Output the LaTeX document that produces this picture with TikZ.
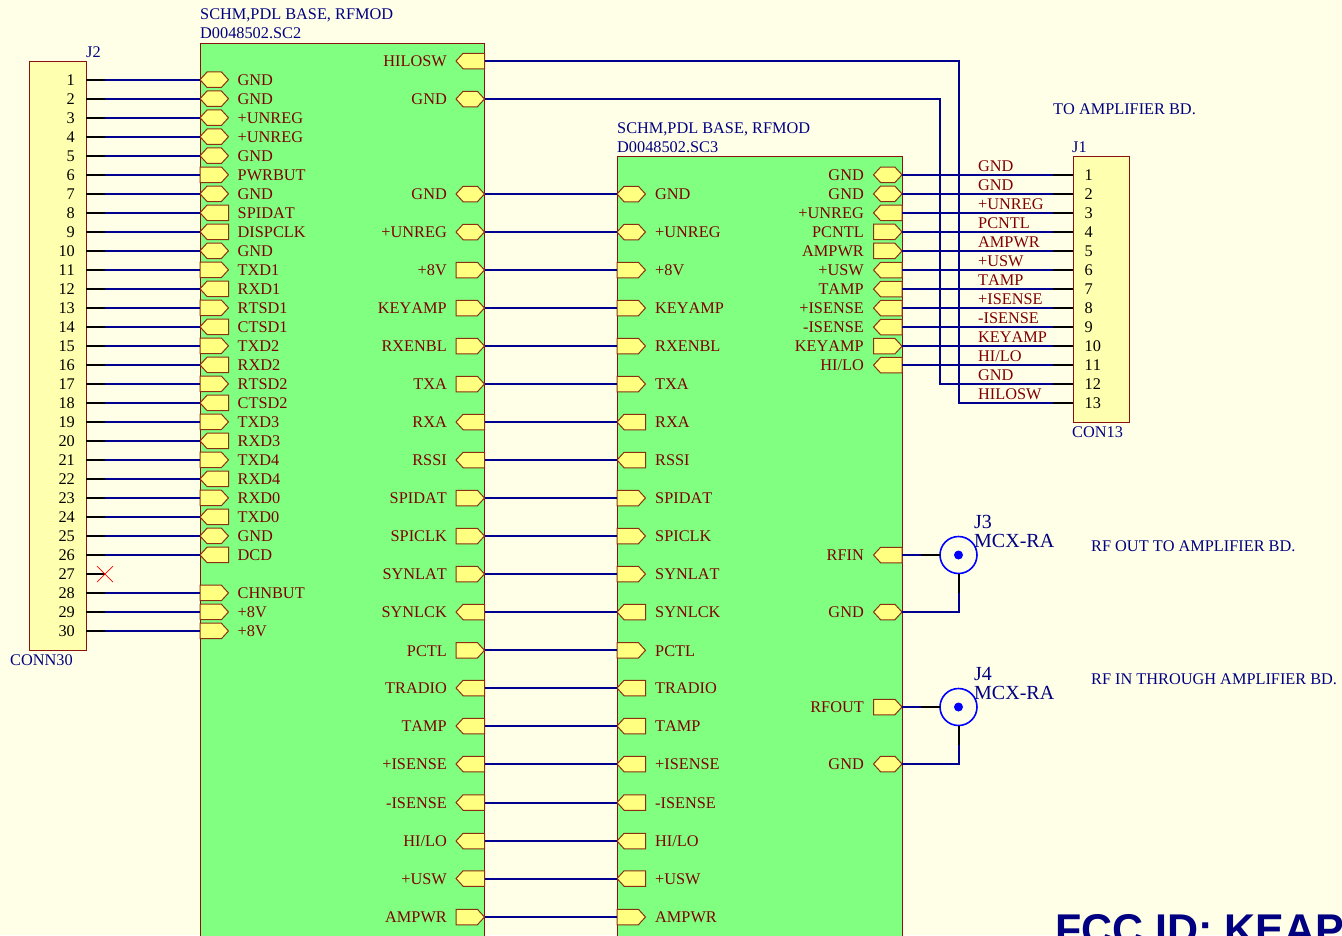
\documentclass[tikz,border=0pt]{standalone}
\usepackage{fontspec}
\setmainfont[Kerning=Off]{Liberation Serif}
\newfontfamily\fccfont{Liberation Sans}
\usetikzlibrary{shapes.symbols,positioning}
\definecolor{paper}{HTML}{FFFFE8}
\definecolor{sheetgreen}{HTML}{80FF80}
\definecolor{connfill}{HTML}{FFFFB0}
\definecolor{portfill}{HTML}{FFFF80}
\definecolor{edgered}{HTML}{8B1010}
\definecolor{portedge}{HTML}{8B3010}
\definecolor{labelred}{HTML}{800000}
\definecolor{textblue}{HTML}{000080}
\definecolor{wireblue}{HTML}{000090}
\tikzstyle{sheetbox} = [draw=edgered,fill=sheetgreen,line width=1pt,anchor=north west,inner sep=0,outer sep=0]
\tikzstyle{connbox} = [draw=edgered,fill=connfill,line width=1pt,anchor=north west,inner sep=0,outer sep=0]
\tikzstyle{portbase} = [shape=signal,draw=portedge,fill=portfill,line width=1pt,minimum width=28.5pt,minimum height=15.5pt,inner sep=0,outer sep=0,signal pointer angle=95]
\tikzstyle{porthex} = [portbase,signal to=east and west]
\tikzstyle{portright} = [portbase,signal to=east]
\tikzstyle{portleft} = [portbase,signal to=west]
\tikzstyle{wire} = [wireblue,line width=2pt]
\tikzstyle{stub} = [black,line width=2pt]
\tikzstyle{lblr} = [labelred,inner sep=0,anchor=base east]
\tikzstyle{lbll} = [labelred,inner sep=0,anchor=base west]
\tikzstyle{pinnum} = [black,inner sep=0]
\tikzstyle{note} = [textblue,inner sep=0,anchor=base west]
\tikzstyle{rfring} = [circle,draw=blue,fill=paper,line width=1.6pt,minimum size=37pt,inner sep=0,outer sep=0]
\tikzstyle{rfdot} = [circle,fill=blue,minimum size=9pt,inner sep=0]

\begin{document}
\begin{tikzpicture}[x=1pt,y=-1pt,every node/.append style={font=\fontsize{16.3}{18}\selectfont}]
\useasboundingbox (0,0) rectangle (1342,935);
\clip (0,0) rectangle (1342,935);
\fill[paper] (0,0) rectangle (1342,935);
% 两张子图
\node[sheetbox,minimum width=284.5pt,minimum height=920pt] (sc2) at (200,43) {};
\node[sheetbox,minimum width=285pt,minimum height=810pt] (sc3) at (617,156) {};
\node[note] (sc2t) at (200,19) {SCHM,PDL BASE, RFMOD};
\node[note] (sc2f) at (200,38) {D0048502.SC2};
\node[note] (sc3t) at (617,133) {SCHM,PDL BASE, RFMOD};
\node[note] (sc3f) at (617,152) {D0048502.SC3};
% J2
\node[connbox,minimum width=57pt,minimum height=589pt] (j2) at (29,61) {};
\node[note] (j2t) at (86,57) {J2};
\node[note] (j2b) at (10,665) {CONN30};
\foreach \i/\nm/\ty in {1/GND/porthex,2/GND/porthex,3/+UNREG/porthex,4/+UNREG/porthex,5/GND/porthex,
  6/PWRBUT/portright,7/GND/porthex,8/SPIDAT/portleft,9/DISPCLK/portleft,10/GND/porthex,
  11/TXD1/portright,12/RXD1/portleft,13/RTSD1/portright,14/CTSD1/portleft,15/TXD2/portright,
  16/RXD2/portleft,17/RTSD2/portright,18/CTSD2/portleft,19/TXD3/portright,20/RXD3/portleft,
  21/TXD4/portright,22/RXD4/portleft,23/RXD0/portright,24/TXD0/portleft,25/GND/porthex,
  26/DCD/portleft,28/CHNBUT/portright,29/+8V/portright,30/+8V/portright}{
  \pgfmathsetmacro{\py}{79.7+19.01*(\i-1)}
  \node[\ty,anchor=west] (l\i) at (200,\py) {};
  \node[lbll] (l\i t) at (237.5,\py+5.7) {\nm};
  \coordinate (jp\i) at (86,\py);
  \coordinate (js\i) at (105,\py);
  \draw[wire] (js\i) -- (l\i.west);
  \draw[stub] (jp\i) -- (js\i);
}
\foreach \i in {1,...,30}{
  \pgfmathsetmacro{\py}{79.7+19.01*(\i-1)}
  \node[pinnum,anchor=base east] (n\i) at (75,\py+5.7) {\i};
}
% 27 脚未接
\coordinate (jp27) at (86,574);
\coordinate (js27) at (105,574);
\draw[stub] (jp27) -- (js27);
\draw[red,line width=0.7pt] ([shift={(-8,-8)}]js27) -- ([shift={(8,8)}]js27) ([shift={(-8,8)}]js27) -- ([shift={(8,-8)}]js27);
% 两图之间
\foreach \k/\py/\nm/\ty in {a/194/GND/porthex,b/232/+UNREG/porthex,c/270/+8V/portright,d/308/KEYAMP/portright,
  e/346/RXENBL/portright,f/384/TXA/portright,g/422/RXA/portleft,h/460/RSSI/portleft,
  i/498/SPIDAT/portright,j/536/SPICLK/portright,k/574/SYNLAT/portright,m/612/SYNLCK/portleft,
  n/650.3/PCTL/portright,o/688/TRADIO/portleft,p/726/TAMP/portleft,q/764/+ISENSE/portleft,
  r/802.5/-ISENSE/portleft,s/841/{HI/LO}/portleft,t/878.5/+USW/portleft,u/917/AMPWR/portright}{
  \node[\ty,anchor=east] (x\k) at (484.5,\py) {};
  \node[\ty,anchor=west] (y\k) at (617,\py) {};
  \node[lblr] (x\k t) at (447,\py+5.7) {\nm};
  \node[lbll] (y\k t) at (655,\py+5.7) {\nm};
  \draw[wire] (x\k.east) -- (y\k.west);
}
% J1
\node[connbox,minimum width=56.5pt,minimum height=266pt] (j1) at (1073,156) {};
\node[note] (j1t) at (1072,152) {J1};
\node[note] (j1b) at (1072,437) {CON13};
\node[note] (totxt) at (1053,114) {TO AMPLIFIER BD.};
\foreach \i/\nm/\ty/\wn in {1/GND/porthex/GND,2/GND/porthex/GND,3/+UNREG/portleft/+UNREG,4/PCNTL/portright/PCNTL,
  5/AMPWR/portright/AMPWR,6/+USW/portleft/+USW,7/TAMP/portleft/TAMP,8/+ISENSE/portleft/+ISENSE,
  9/-ISENSE/portleft/-ISENSE,10/KEYAMP/portright/KEYAMP,11/{HI/LO}/portleft/{HI/LO}}{
  \pgfmathsetmacro{\py}{174.8+19.04*(\i-1)}
  \node[\ty,anchor=east] (r\i) at (902,\py) {};
  \node[lblr] (r\i t) at (864,\py+5.7) {\nm};
  \coordinate (kp\i) at (1073,\py);
  \coordinate (ks\i) at (1053,\py);
  \draw[wire] (r\i.east) -- (ks\i);
  \draw[stub] (ks\i) -- (kp\i);
  \node[lbll] (w\i) at (978,\py-3.6) {\wn};
}
\foreach \i in {1,...,13}{
  \pgfmathsetmacro{\py}{174.8+19.04*(\i-1)}
  \node[pinnum,anchor=base west] (o\i) at (1084.5,\py+5.7) {\i};
}
% 跨到 J1 的两根线
\node[portleft,anchor=east] (hl) at (484.5,61) {};
\node[lblr] (hlt) at (447,66) {HILOSW};
\node[porthex,anchor=east] (gd) at (484.5,99) {};
\node[lblr] (gdt) at (447,104) {GND};
\coordinate (ks12) at (1053,384.2);
\coordinate (kp12) at (1073,384.2);
\coordinate (ks13) at (1053,403.3);
\coordinate (kp13) at (1073,403.3);
\draw[wire] (hl.east) -- (959,61) -- (959,403.3) -- (ks13);
\draw[wire] (gd.east) -- (940,99) -- (940,384.2) -- (ks12);
\draw[stub] (ks12) -- (kp12);
\draw[stub] (ks13) -- (kp13);
\node[lbll] (w12) at (978,380.6) {GND};
\node[lbll] (w13) at (978,399.7) {HILOSW};
% 射频接头
\foreach \c/\ya/\yb/\nm/\ty/\tx/\yt in {3/555/612/RFIN/portleft/{RF OUT TO AMPLIFIER BD.}/551,4/707/764/RFOUT/portright/{RF IN THROUGH AMPLIFIER BD.}/684}{
  \node[\ty,anchor=east] (rf\c) at (902,\ya) {};
  \node[lblr] (rf\c t) at (864,\ya+5.7) {\nm};
  \node[porthex,anchor=east] (rg\c) at (902,\yb) {};
  \node[lblr] (rg\c t) at (864,\yb+5.7) {GND};
  \node[rfring] (mcx\c) at (958.5,\ya) {};
  \node[rfdot] (dot\c) at (958.5,\ya) {};
  \coordinate (ms\c) at (921,\ya);
  \coordinate (mv\c) at (958.5,\ya+38);
  \coordinate (mc\c) at (958.5,\yb);
  \draw[wire] (rf\c.east) -- (ms\c);
  \draw[stub] (ms\c) -- (mcx\c.west);
  \draw[stub] (mcx\c.south) -- (mv\c);
  \draw[wire] (mv\c) -- (mc\c) -- (rg\c.east);
  \node[note,font=\fontsize{20}{22}\selectfont] (mj\c) at (974,\ya-27) {J\c};
  \node[note,font=\fontsize{20}{22}\selectfont] (mt\c) at (974,\ya-8) {MCX-RA};
  \node[note] (mn\c) at (1091,\yt) {\tx};
}
\node[note,font=\fccfont\bfseries\fontsize{43}{47}\selectfont] (fcc) at (1055,944.5) {FCC ID: KEAP};
\end{tikzpicture}
\end{document}
